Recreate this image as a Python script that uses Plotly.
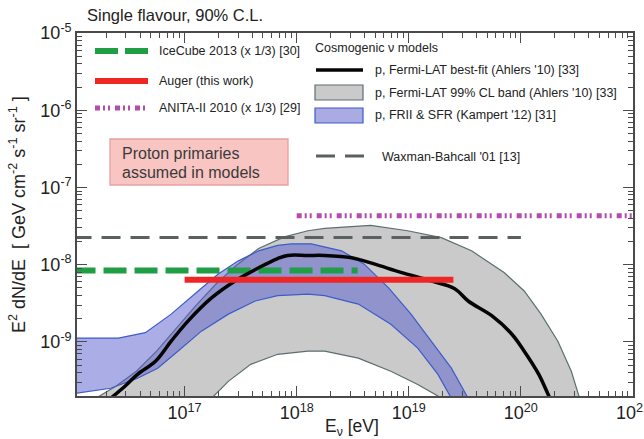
import plotly.graph_objects as go

# ---- data (log10 energies in eV, log10 fluxes in GeV cm^-2 s^-1 sr^-1) ----
fermi_best_logE = [16.34, 16.47, 16.58, 16.74, 16.88, 17.03, 17.24, 17.45, 17.66, 17.83,
                   17.92, 18.10, 18.25, 18.49, 18.69, 18.93, 19.20, 19.41, 19.53, 19.74,
                   19.92, 20.03, 20.16, 20.25, 20.32]
fermi_best_logF = [-9.73, -9.57, -9.42, -9.25, -8.99, -8.73, -8.43, -8.21, -8.04, -7.92,
                   -7.88, -7.88, -7.88, -7.91, -7.99, -8.10, -8.21, -8.31, -8.47, -8.66,
                   -8.90, -9.12, -9.42, -9.70, -9.90]

fermi_hi_logE = [16.12, 16.23, 16.39, 16.57, 16.75, 16.92, 17.10, 17.28, 17.46, 17.66,
                 17.89, 18.10, 18.25, 18.66, 18.99, 19.29, 19.56, 19.85, 20.03, 20.18,
                 20.33, 20.45, 20.52, 20.56]
fermi_hi_logF = [-9.90, -9.71, -9.57, -9.38, -9.12, -8.83, -8.53, -8.25, -8.01, -7.79,
                 -7.64, -7.56, -7.53, -7.49, -7.56, -7.65, -7.82, -8.10, -8.34, -8.64,
                 -8.99, -9.38, -9.73, -9.90]
fermi_lo_logE = [17.15, 17.24, 17.39, 17.59, 17.83, 18.10, 18.25, 18.55, 18.84, 19.08,
                 19.26, 19.35]
fermi_lo_logF = [-9.90, -9.73, -9.51, -9.29, -9.16, -9.12, -9.12, -9.21, -9.38, -9.55,
                 -9.70, -9.90]

kampert_hi_logE = [16.00, 16.41, 16.65, 16.88, 17.09, 17.30, 17.48, 17.66, 17.83, 17.95,
                   18.13, 18.40, 18.60, 18.82, 19.02, 19.20, 19.38, 19.53, 19.58]
kampert_hi_logF = [-8.95, -8.95, -8.88, -8.64, -8.38, -8.12, -7.95, -7.82, -7.75, -7.73,
                   -7.73, -7.82, -7.99, -8.30, -8.64, -8.99, -9.34, -9.73, -9.90]
kampert_lo_logE = [16.00, 16.34, 16.58, 16.76, 16.94, 17.15, 17.39, 17.63, 17.83, 18.10,
                   18.25, 18.55, 18.84, 19.08, 19.26, 19.38, 19.42]
kampert_lo_logF = [-9.67, -9.60, -9.47, -9.34, -9.12, -8.86, -8.64, -8.47, -8.40, -8.38,
                   -8.40, -8.51, -8.77, -9.08, -9.42, -9.73, -9.90]

# flat limits: [E_min, E_max] in eV, and the flux level
icecube_E = [1e16, 3.5e18]
icecube_F = 8.4e-9
auger_E = [1e17, 2.5e19]
auger_F = 6.4e-9
anita_E = [1e18, 1e21]
anita_F = 4.3e-8
wb_E = [1e16, 1e20]
wb_F = 2.25e-8

x_ticks = [1e17, 1e18, 1e19, 1e20, 1e21]
x_ticktext = ["10<sup>17</sup>", "10<sup>18</sup>", "10<sup>19</sup>",
              "10<sup>20</sup>", "10<sup>21</sup>"]
y_ticks = [1e-9, 1e-8, 1e-7, 1e-6, 1e-5]
y_ticktext = ["10<sup>-9</sup>", "10<sup>-8</sup>", "10<sup>-7</sup>",
              "10<sup>-6</sup>", "10<sup>-5</sup>"]
x_decades = [16, 17, 18, 19, 20]
y_decades = [-10, -9, -8, -7, -6]
minor_mult = [2, 3, 4, 5, 6, 7, 8, 9]

FONT = "Liberation Sans, Arial, Helvetica, sans-serif"


def pw(v):
    return [10 ** a for a in v]


def minor_vals(decades):
    return [m * 10.0 ** d for d in decades for m in minor_mult]


fig = go.Figure()

# Fermi-LAT 99% CL band (grey)
fig.add_trace(go.Scatter(
    x=pw(fermi_hi_logE + fermi_lo_logE[::-1]),
    y=pw(fermi_hi_logF + fermi_lo_logF[::-1]),
    fill="toself", fillcolor="#cacaca", mode="lines",
    line=dict(color="#5b6f70", width=1.2), hoverinfo="skip"))

# FRII & SFR band (blue, semi transparent)
fig.add_trace(go.Scatter(
    x=pw(kampert_hi_logE + kampert_lo_logE[::-1]),
    y=pw(kampert_hi_logF + kampert_lo_logF[::-1]),
    fill="toself", fillcolor="rgba(88,92,205,0.50)", mode="lines",
    line=dict(color="#3d5cc8", width=1.2), hoverinfo="skip"))

# Waxman-Bahcall bound
fig.add_trace(go.Scatter(x=wb_E, y=[wb_F, wb_F], mode="lines",
                         line=dict(color="#5a6060", width=3.2, dash="19px,10px")))
# IceCube 2013
fig.add_trace(go.Scatter(x=icecube_E, y=[icecube_F, icecube_F], mode="lines",
                         line=dict(color="#1f9e45", width=6, dash="23px,8px")))
# Fermi-LAT best fit
fig.add_trace(go.Scatter(x=pw(fermi_best_logE), y=pw(fermi_best_logF), mode="lines",
                         line=dict(color="#050505", width=3.5, shape="spline")))
# Auger (this work)
fig.add_trace(go.Scatter(x=auger_E, y=[auger_F, auger_F], mode="lines",
                         line=dict(color="#ee2626", width=6)))
# ANITA-II 2010
fig.add_trace(go.Scatter(x=anita_E, y=[anita_F, anita_F], mode="lines",
                         line=dict(color="#b24cae", width=5,
                                   dash="5px,3px,2px,3px,2px,5px")))

# ---- hand-placed legend, annotations ----
L, R, T, B = 77, 633, 33, 396


def px(x):
    return (x - L) / (R - L)


def py(y):
    return (B - y) / (B - T)


shapes = []
annots = []


def text(x, y, s, size=12.5, color="#222222", anchor="left", angle=0):
    annots.append(dict(x=px(x), y=py(y), xref="paper", yref="paper", text=s,
                       showarrow=False, xanchor=anchor, yanchor="middle",
                       textangle=angle,
                       font=dict(family=FONT, size=size, color=color)))


def seg(x0, x1, y, color, width, dash="solid"):
    shapes.append(dict(type="line", xref="paper", yref="paper",
                       x0=px(x0), x1=px(x1), y0=py(y), y1=py(y),
                       line=dict(color=color, width=width, dash=dash)))


def box(x0, x1, y0, y1, fill, line, lw=1.2):
    shapes.append(dict(type="rect", xref="paper", yref="paper",
                       x0=px(x0), x1=px(x1), y0=py(y1), y1=py(y0),
                       fillcolor=fill, line=dict(color=line, width=lw)))


seg(95, 148, 51, "#1f9e45", 6, "23px,7px")
text(157, 51, "IceCube 2013 (x 1/3) [30]")
seg(95, 148, 81, "#ee2626", 6)
text(157, 81, "Auger (this work)")
seg(95, 146, 108, "#b24cae", 5, "5px,3px,2px,3px,2px,5px")
text(157, 108, "ANITA-II 2010 (x 1/3) [29]")

text(313, 48, "Cosmogenic ν models")
seg(316, 363, 70, "#050505", 3.5)
text(373, 70, "p, Fermi-LAT best-fit (Ahlers '10) [33]")
box(315, 363, 85, 100, "#cacaca", "#5b6f70")
text(373, 93, "p, Fermi-LAT 99% CL band (Ahlers '10) [33]")
box(315, 363, 108, 123, "#a9abe2", "#3d5cc8")
text(373, 115, "p, FRII & SFR (Kampert '12) [31]")
seg(316, 370, 156, "#5a6060", 3.2, "19px,10px")
text(380, 157, "Waxman-Bahcall '01 [13]")

# note box
box(110, 288, 139, 185, "#f8c5c3", "#e4a2a0", 1.3)
text(120, 153, "Proton primaries", size=16, color="#3a3a3a")
text(120, 172, "assumed in models", size=16, color="#3a3a3a")

# title and axis titles
text(85, 15, "Single flavour, 90% C.L.", size=16.5)
text(18, 215,
     "E<sup>2</sup> dN/dE  [ GeV cm<sup>-2</sup> s<sup>-1</sup> sr<sup>-1</sup> ]",
     size=18, anchor="center", angle=-90)
text(352, 427, "E<sub>ν</sub> [eV]", size=17.5, anchor="center")

axis_common = dict(
    showline=True, linecolor="#4a4a4a", linewidth=1.6, mirror="allticks",
    ticks="inside", ticklen=10, tickwidth=1.3, tickcolor="#4a4a4a",
    showgrid=False, zeroline=False, ticklabeloverflow="allow", automargin=False,
    tickfont=dict(family=FONT, size=18, color="#222222"),
)

fig.update_layout(
    width=644, height=439, autosize=False,
    margin=dict(l=L, r=644 - R, t=T, b=439 - B, autoexpand=False),
    paper_bgcolor="white", plot_bgcolor="white",
    showlegend=False,
    xaxis=dict(type="log", range=[16.04, 21.0005], tickvals=x_ticks, ticktext=x_ticktext,
               minor=dict(tickvals=minor_vals(x_decades), ticks="inside", ticklen=5,
                          tickwidth=1, tickcolor="#4a4a4a", showgrid=False),
               **axis_common),
    yaxis=dict(type="log", range=[-9.70, -4.9995], tickvals=y_ticks, ticktext=y_ticktext,
               minor=dict(tickvals=minor_vals(y_decades), ticks="inside", ticklen=5,
                          tickwidth=1, tickcolor="#4a4a4a", showgrid=False),
               **axis_common),
    shapes=shapes, annotations=annots,
)

fig.write_html("out.html")
